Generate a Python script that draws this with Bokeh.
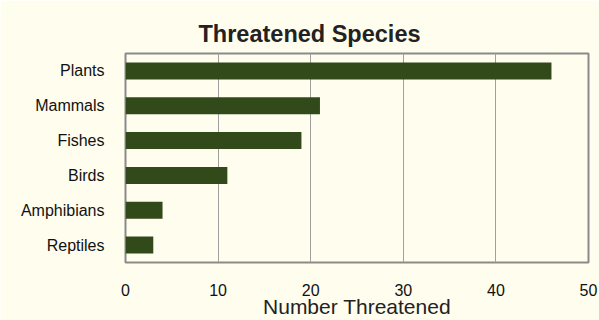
from bokeh.plotting import figure
from bokeh.models import FactorRange, Range1d, FixedTicker, ColumnDataSource
from bokeh.embed import file_html
from bokeh.resources import INLINE

categories = ["Plants", "Mammals", "Fishes", "Birds", "Amphibians", "Reptiles"]
threatened = [46, 21, 19, 11, 4, 3]
x_ticks = [0, 10, 20, 30, 40, 50]

BG = "#fffdee"
BAR = "#324a1a"

source = ColumnDataSource(data=dict(cat=categories, val=threatened))

p = figure(
    width=599, height=320,
    y_range=FactorRange(factors=list(reversed(categories)), range_padding=0),
    x_range=Range1d(0, 50),
    output_backend="svg", toolbar_location=None,
    background_fill_color=BG, border_fill_color=BG,
    min_border_left=125, min_border_right=11, min_border_top=53, min_border_bottom=58,
)

p.hbar(y="cat", right="val", left=0, height=0.49, source=source,
       fill_color=BAR, line_color=None)

# title
p.title.text = "Threatened Species"
p.title.text_font = "Liberation Sans"
p.title.text_font_size = "23.5px"
p.title.text_font_style = "bold"
p.title.text_color = "#222222"
p.title.align = "left"
p.title.offset = 73
p.title.standoff = 14

# outline
p.outline_line_color = "#8a8a8a"
p.outline_line_width = 2

# grid
p.ygrid.grid_line_color = None
p.xgrid.grid_line_color = "#a0a0a0"
p.xgrid.grid_line_width = 1
p.xaxis.ticker = FixedTicker(ticks=x_ticks)

for ax in (p.xaxis, p.yaxis):
    ax.axis_line_color = None
    ax.major_tick_line_color = None
    ax.minor_tick_line_color = None
    ax.major_label_text_font = "Liberation Sans"
    ax.major_label_text_font_size = "16px"
    ax.major_label_text_color = "#111111"

p.xaxis.major_label_standoff = 15
p.yaxis.major_label_standoff = 15
p.xaxis.axis_label = "Number Threatened"
p.xaxis.axis_label_text_font = "Liberation Sans"
p.xaxis.axis_label_text_font_size = "21px"
p.xaxis.axis_label_text_font_style = "normal"
p.xaxis.axis_label_text_color = "#222222"
p.xaxis.axis_label_standoff = -4

open("out.html", "w").write(file_html(p, INLINE))
